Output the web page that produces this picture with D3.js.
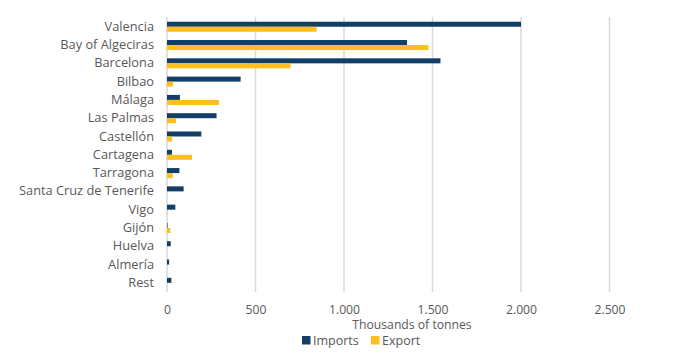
<!DOCTYPE html>
<html><head><meta charset="utf-8">
<script src="https://cdn.jsdelivr.net/npm/d3@7"></script>
<style>body{margin:0;background:#fff}svg{display:block;font-family:"Open Sans",Roboto,sans-serif}</style>
</head><body><svg id="c" width="679" height="360"></svg>
<script>
const categories = ["Valencia","Bay of Algeciras","Barcelona","Bilbao","Málaga","Las Palmas","Castellón","Cartagena","Tarragona","Santa Cruz de Tenerife","Vigo","Gijón","Huelva","Almería","Rest"];
const imports = [2000,1356,1545,416,73,280,194,28,70,94,47,3,21,12,25];
const exportsV = [845,1477,698,34,293,51,28,141,32,0,2,19,0,0,0];
const ticks = [0,500,1000,1500,2000,2500];
const seriesNames = ["Imports","Export"];
const colors = ["#133F67","#FDBF1E"];

const svg = d3.select("#c");
const m = {left:167, right:609.5, top:17, bottom:292};
const x = d3.scaleLinear().domain([0,2500]).range([m.left, m.right]);
const y = d3.scaleBand().domain(categories).range([19.9, 289.7]).paddingInner(0.45).paddingOuter(0.1);
const fmt = v => d3.format(",")(v).replace(/,/g,".");
const font = "'Open Sans',Roboto,sans-serif";

svg.append("g").selectAll("line").data(ticks).join("line")
  .attr("x1",d=>x(d)).attr("x2",d=>x(d)).attr("y1",m.top).attr("y2",m.bottom)
  .attr("stroke","#D9D9D9").attr("stroke-width",1.5);

const bh = y.bandwidth()/2;
svg.append("g").selectAll("rect").data(categories).join("rect")
  .attr("x",x(0)).attr("y",d=>y(d)).attr("height",bh)
  .attr("width",(d,i)=>x(imports[i])-x(0)).attr("fill",colors[0]);
svg.append("g").selectAll("rect").data(categories).join("rect")
  .attr("x",x(0)).attr("y",d=>y(d)+bh).attr("height",bh)
  .attr("width",(d,i)=>x(exportsV[i])-x(0)).attr("fill",colors[1]);

const yAxis = d3.axisLeft(y).tickSize(0).tickPadding(13);
const ga = svg.append("g").attr("transform",`translate(${m.left},0)`).call(yAxis);
ga.select(".domain").remove();
ga.selectAll("text").attr("font-size",12.8).attr("fill","#595959").style("font-family",font);

const xAxis = d3.axisBottom(x).tickValues(ticks).tickSize(0).tickPadding(9).tickFormat(fmt);
const gx = svg.append("g").attr("transform",`translate(0,${m.bottom+4})`).call(xAxis);
gx.select(".domain").remove();
gx.selectAll("text").attr("font-size",12.2).attr("fill","#595959").style("font-family",font);

svg.append("text").attr("x",412).attr("y",329).attr("text-anchor","middle")
  .attr("font-size",12.2).attr("fill","#595959").text("Thousands of tonnes");

const lg = svg.append("g").attr("transform","translate(302,336)");
const lx = [0, 69];
seriesNames.forEach((n,i)=>{
  const g = lg.append("g").attr("transform",`translate(${lx[i]},0)`);
  g.append("rect").attr("width",8.5).attr("height",8.5).attr("y",0).attr("fill",colors[i]);
  g.append("text").attr("x",11).attr("y",8.8).attr("font-size",12.5).attr("fill","#595959").text(n);
});
</script></body></html>
